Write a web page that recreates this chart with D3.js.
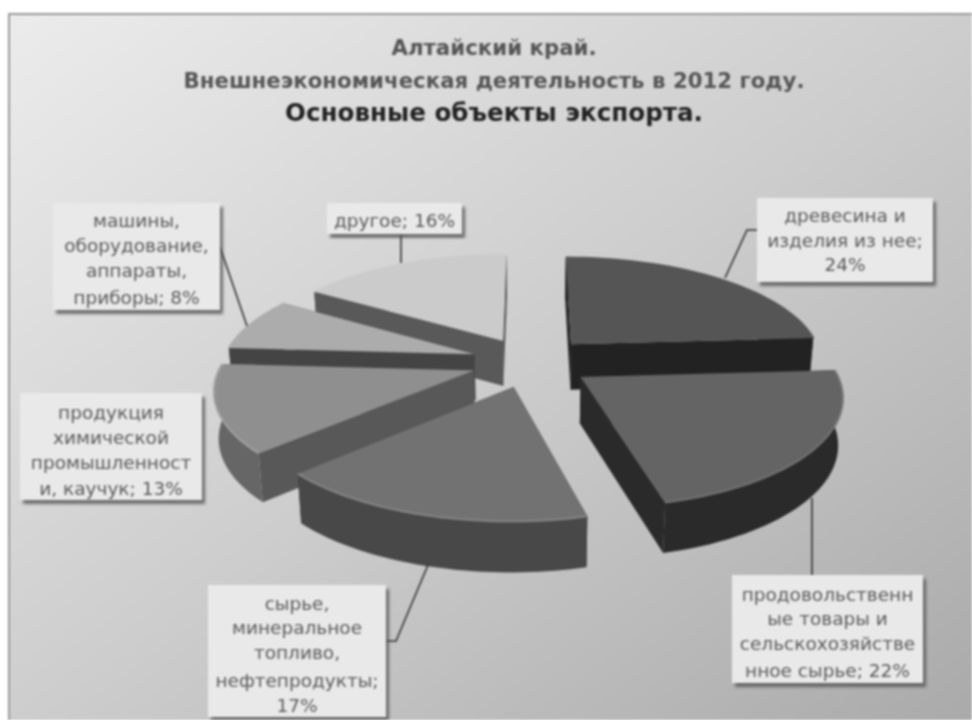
<!DOCTYPE html>
<html>
<head>
<meta charset="utf-8">
<script src="https://cdn.jsdelivr.net/npm/d3@7"></script>
<style>
body { margin: 0; background: #fff; }
svg { display: block; filter: blur(0.8px); }
text { font-family: "DejaVu Sans", sans-serif; }
</style>
</head>
<body>
<div id="chart"></div>
<script>
// Data
const categories = [
    "древесина и изделия из нее",
    "продовольственные товары и сельскохозяйственное сырье",
    "сырье, минеральное топливо, нефтепродукты",
    "продукция химической промышленности, каучук",
    "машины, оборудование, аппараты, приборы",
    "другое"
];
const shares = [24, 22, 17, 13, 8, 16];
const titleLines = [
    "Алтайский край.",
    "Внешнеэкономическая деятельность в 2012 году.",
    "Основные объекты экспорта."
];
const labelLines = [
    ["древесина и", "изделия из нее;", "24%"],
    ["продовольственн", "ые товары и", "сельскохозяйстве", "нное сырье; 22%"],
    ["сырье,", "минеральное", "топливо,", "нефтепродукты;", "17%"],
    ["продукция", "химической", "промышленност", "и, каучук; 13%"],
    ["машины,", "оборудование,", "аппараты,", "приборы; 8%"],
    ["другое; 16%"]
];

// Styles per slice
const topColors = ["#555555", "#646464", "#727272", "#8f8f8f", "#acacac", "#cbcbcb"];
const wallColors = ["#222222", "#2a2a2a", "#444444", "#585858", "#444444", "#595959"];
const outerColors = ["#222222", "#2a2a2a", "#484848", "#666666", "#444444", "#595959"];
const edgeColors = ["#555555", "#747474", "#868686", "#a2a2a2", "#acacac", "#cbcbcb"];
const drawOrder = [5, 0, 4, 3, 2, 1];

// Label boxes and leader lines, in page pixels
const boxes = [
    {x: 757, y: 198, w: 176, h: 84, lineY: [215, 240, 264]},
    {x: 732, y: 575, w: 191, h: 108, lineY: [594, 618, 643, 670]},
    {x: 208, y: 585, w: 178, h: 132, lineY: [603, 627, 652, 680, 705]},
    {x: 20, y: 393, w: 182, h: 107, lineY: [412, 437, 462, 488]},
    {x: 53, y: 203, w: 167, h: 107, lineY: [220, 245, 270, 297]},
    {x: 327, y: 203, w: 135, h: 31, lineY: [220]}
];
const leaders = [
    [[757, 230], [747, 230], [725, 278]],
    [[812, 498], [812, 575]],
    [[386, 641], [396, 641], [428, 565]],
    [],
    [[220, 247], [247, 326]],
    [[401, 234], [401, 263]]
];

const svgWidth = 972;
const svgHeight = 720;

// Pie geometry: ground plane projected with a bit of perspective
const cx = 531, cy = 362;
const radius = 252, explode = 60, thickness = 46;
const tilt = 0.417, persp = 1 / 1633;
const converge = 0.985;

function project(u, v, drop) {
    let s = 1 / (1 - v * persp);
    if (!drop) return [cx + u * s, cy + v * tilt * s];
    return [cx + u * s * converge, cy + v * tilt * s + thickness * Math.sqrt(s)];
}

let svg = d3.select("#chart")
    .append("svg")
    .attr("width", svgWidth)
    .attr("height", svgHeight);

let defs = svg.append("defs");

let bg = defs.append("linearGradient")
    .attr("id", "bg")
    .attr("x1", "0").attr("y1", "0")
    .attr("x2", "1").attr("y2", "1");
bg.append("stop").attr("offset", "0").attr("stop-color", "#ececec");
bg.append("stop").attr("offset", "0.5").attr("stop-color", "#cdcdcd");
bg.append("stop").attr("offset", "1").attr("stop-color", "#a9a9a9");

let shadow = defs.append("filter")
    .attr("id", "shadow")
    .attr("x", "-10%").attr("y", "-10%")
    .attr("width", "125%").attr("height", "125%");
shadow.append("feDropShadow")
    .attr("dx", 3).attr("dy", 4)
    .attr("stdDeviation", 1.6)
    .attr("flood-color", "#555")
    .attr("flood-opacity", 0.8);

// Chart area with its frame
svg.append("rect")
    .attr("x", 9).attr("y", 14)
    .attr("width", svgWidth).attr("height", svgHeight)
    .attr("fill", "url(#bg)")
    .attr("stroke", "#9a9a9a")
    .attr("stroke-width", 2);

// Title
svg.selectAll(".title")
    .data(titleLines)
    .join("text")
    .attr("class", "title")
    .attr("x", 494)
    .attr("y", (d, i) => [55, 88, 121][i])
    .attr("text-anchor", "middle")
    .attr("font-size", (d, i) => [21.3, 21.3, 24.6][i])
    .attr("font-weight", "bold")
    .attr("fill", (d, i) => i == 2 ? "#222" : "#555")
    .text(d => d);

// Slices
let pie = d3.pie().sort(null).value(d => d)(shares);
let line = d3.line();

let slices = drawOrder.map(i => {
    let p = pie[i];
    let mid = (p.startAngle + p.endAngle) / 2;
    let u0 = explode * Math.sin(mid);
    let v0 = -explode * Math.cos(mid);
    let angles = d3.range(0, 41).map(k => p.startAngle + (p.endAngle - p.startAngle) * k / 40);
    let rim = angles.map(a => [u0 + radius * Math.sin(a), v0 - radius * Math.cos(a)]);
    return {i, u0, v0, rim};
});

let groups = svg.selectAll(".slice")
    .data(slices)
    .join("g")
    .attr("class", "slice");

groups.each(function (d) {
    let g = d3.select(this);
    let top = d.rim.map(q => project(q[0], q[1], false));
    let low = d.rim.map(q => project(q[0], q[1], true));
    let apexTop = project(d.u0, d.v0, false);
    let apexLow = project(d.u0, d.v0, true);
    let n = d.rim.length - 1;

    // radial walls
    g.append("path")
        .attr("d", line([apexTop, top[0], low[0], apexLow]) + "Z")
        .attr("fill", wallColors[d.i]);
    g.append("path")
        .attr("d", line([apexTop, top[n], low[n], apexLow]) + "Z")
        .attr("fill", wallColors[d.i]);
    // outer wall
    g.append("path")
        .attr("d", line(top.concat(low.slice().reverse())) + "Z")
        .attr("fill", outerColors[d.i]);
    // top face
    g.append("path")
        .attr("d", line([apexTop].concat(top)) + "Z")
        .attr("fill", topColors[d.i]);
    // soft bevel along the rim
    g.append("path")
        .attr("d", line(top))
        .attr("fill", "none")
        .attr("stroke", edgeColors[d.i])
        .attr("stroke-width", 2);
});

// Leader lines
svg.selectAll(".leader")
    .data(leaders.filter(d => d.length))
    .join("path")
    .attr("class", "leader")
    .attr("d", d => line(d))
    .attr("fill", "none")
    .attr("stroke", "#333")
    .attr("stroke-width", 1.6);

// Data labels
let labels = svg.selectAll(".label")
    .data(labelLines)
    .join("g")
    .attr("class", "label");

labels.append("rect")
    .attr("x", (d, i) => boxes[i].x)
    .attr("y", (d, i) => boxes[i].y)
    .attr("width", (d, i) => boxes[i].w)
    .attr("height", (d, i) => boxes[i].h)
    .attr("fill", "#e9e9e9")
    .attr("filter", "url(#shadow)");

labels.each(function (lines, i) {
    d3.select(this).selectAll("text")
        .data(lines)
        .join("text")
        .attr("x", boxes[i].x + boxes[i].w / 2)
        .attr("y", (d, k) => boxes[i].lineY[k] + 6.5)
        .attr("text-anchor", "middle")
        .attr("font-size", 18.5)
        .attr("fill", "#5a5a5a")
        .text(d => d);
});
</script>
</body>
</html>
